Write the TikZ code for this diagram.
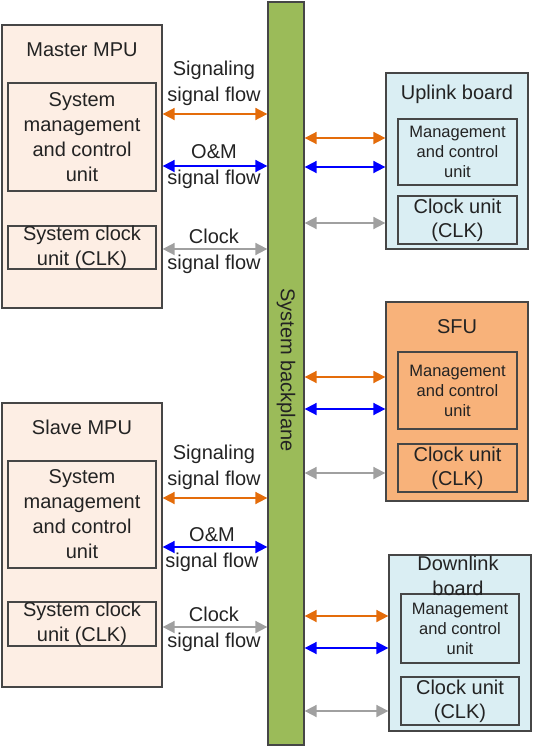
\documentclass[tikz,border=0pt]{standalone}
\usepackage{fontspec}
\setmainfont{Liberation Sans}
\usetikzlibrary{arrows.meta}
\definecolor{mpufill}{RGB}{253,238,228}
\definecolor{bluefill}{RGB}{218,238,243}
\definecolor{sfufill}{RGB}{248,178,122}
\definecolor{bpgreen}{RGB}{155,187,89}
\definecolor{bordergray}{RGB}{70,70,70}
\definecolor{orgarrow}{RGB}{228,108,10}
\definecolor{bluearrow}{RGB}{0,0,255}
\definecolor{grayarrow}{RGB}{160,160,160}
\definecolor{txtgray}{RGB}{35,35,35}
\tikzset{
  box/.style={draw=bordergray, line width=1.3pt, inner sep=0pt},
  bigtxt/.style={align=center, text=txtgray, inner sep=0pt, font=\fontsize{20}{25}\selectfont},
  flowtxt/.style={align=center, text=txtgray, inner sep=0pt, font=\fontsize{20}{26}\selectfont},
  smalltxt/.style={align=center, text=txtgray, inner sep=0pt, font=\fontsize{16.5}{20}\selectfont},
  clktxt/.style={align=center, text=txtgray, inner sep=0pt, font=\fontsize{20}{24}\selectfont},
  flow/.style={line width=1.8pt, {Triangle[length=12pt,width=12pt]}-{Triangle[length=12pt,width=12pt]}},
  oflow/.style={flow, draw=orgarrow, fill=orgarrow},
  bflow/.style={flow, draw=bluearrow, fill=bluearrow},
  gflow/.style={flow, draw=grayarrow, fill=grayarrow},
}
\begin{document}
\begin{tikzpicture}[x=1pt,y=-1pt]
\useasboundingbox (0,0) rectangle (533,747);
% backplane
\node[box, fill=bpgreen, minimum width=36pt, minimum height=743pt] (bp) at (286,373.5) {};
\node[bigtxt, rotate=-90] (bptxt) at (286,370) {System backplane};

% Master MPU
\node[box, fill=mpufill, minimum width=160pt, minimum height=283pt] (master) at (82,166.5) {};
\node[bigtxt] (mastert) at (82,50) {Master MPU};
\node[box, fill=mpufill, minimum width=148pt, minimum height=108pt] (mmgmt) at (82,137) {};
\node[bigtxt] (mmgmtt) at (mmgmt) {System\\management\\and control\\unit};
\node[box, fill=mpufill, minimum width=148pt, minimum height=43pt] (mclk) at (82,247.5) {};
\node[bigtxt] (mclkt) at (mclk) {System clock\\unit (CLK)};
\node[flowtxt] (ml1) at (214,83.5) {Signaling\\signal flow};
\node[flowtxt] (ml2) at (214,166.5) {O\&M\\signal flow};
\node[flowtxt] (ml3) at (214,251.5) {Clock\\signal flow};
\draw[oflow] (master.east |- 0,114) -- (bp.west |- 0,114);
\draw[bflow] (master.east |- 0,166) -- (bp.west |- 0,166);
\draw[gflow] (master.east |- 0,249) -- (bp.west |- 0,249);

% Slave MPU
\node[box, fill=mpufill, minimum width=160pt, minimum height=284pt] (slave) at (82,545) {};
\node[bigtxt] (slavet) at (82,427) {Slave MPU};
\node[box, fill=mpufill, minimum width=148pt, minimum height=107pt] (smgmt) at (82,514.5) {};
\node[bigtxt] (smgmtt) at (smgmt) {System\\management\\and control\\unit};
\node[box, fill=mpufill, minimum width=148pt, minimum height=44pt] (sclk) at (82,624) {};
\node[bigtxt] (sclkt) at (sclk) {System clock\\unit (CLK)};
\node[flowtxt] (sl1) at (214,467) {Signaling\\signal flow};
\node[flowtxt] (sl2) at (212,550) {O\&M\\signal flow};
\node[flowtxt] (sl3) at (214,629.5) {Clock\\signal flow};
\draw[oflow] (slave.east |- 0,498) -- (bp.west |- 0,498);
\draw[bflow] (slave.east |- 0,547) -- (bp.west |- 0,547);
\draw[gflow] (slave.east |- 0,627) -- (bp.west |- 0,627);

% Uplink board
\node[box, fill=bluefill, minimum width=142pt, minimum height=176pt] (up) at (457,161) {};
\node[bigtxt] (upt) at (457,94) {Uplink board};
\node[box, fill=bluefill, minimum width=119pt, minimum height=66pt] (umgmt) at (457.5,152) {};
\node[smalltxt] (umgmtt) at (umgmt) {Management\\and control\\unit};
\node[box, fill=bluefill, minimum width=119pt, minimum height=48pt] (uclk) at (457.5,220) {};
\node[clktxt] (uclkt) at (uclk) {Clock unit\\(CLK)};
\draw[oflow] (bp.east |- 0,138) -- (up.west |- 0,138);
\draw[bflow] (bp.east |- 0,167) -- (up.west |- 0,167);
\draw[gflow] (bp.east |- 0,223) -- (up.west |- 0,223);

% SFU
\node[box, fill=sfufill, minimum width=142pt, minimum height=199pt] (sfu) at (457,401.5) {};
\node[bigtxt] (sfut) at (457,327) {SFU};
\node[box, fill=sfufill, minimum width=119pt, minimum height=77pt] (fmgmt) at (457.5,390.5) {};
\node[smalltxt] (fmgmtt) at (fmgmt) {Management\\and control\\unit};
\node[box, fill=sfufill, minimum width=119pt, minimum height=48pt] (fclk) at (457.5,468) {};
\node[clktxt] (fclkt) at (fclk) {Clock unit\\(CLK)};
\draw[oflow] (bp.east |- 0,377) -- (sfu.west |- 0,377);
\draw[bflow] (bp.east |- 0,409) -- (sfu.west |- 0,409);
\draw[gflow] (bp.east |- 0,473) -- (sfu.west |- 0,473);

% Downlink board
\node[box, fill=bluefill, minimum width=142pt, minimum height=176pt] (down) at (460,643) {};
\node[box, fill=bluefill, minimum width=118pt, minimum height=69pt] (dmgmt) at (460,628.5) {};
\node[bigtxt] (downt) at (458,576) {Downlink\\board};
\node[smalltxt] (dmgmtt) at (dmgmt) {Management\\and control\\unit};
\node[box, fill=bluefill, minimum width=118pt, minimum height=48pt] (dclk) at (460,701) {};
\node[clktxt] (dclkt) at (dclk) {Clock unit\\(CLK)};
\draw[oflow] (bp.east |- 0,616) -- (down.west |- 0,616);
\draw[bflow] (bp.east |- 0,648) -- (down.west |- 0,648);
\draw[gflow] (bp.east |- 0,711) -- (down.west |- 0,711);
\end{tikzpicture}
\end{document}
